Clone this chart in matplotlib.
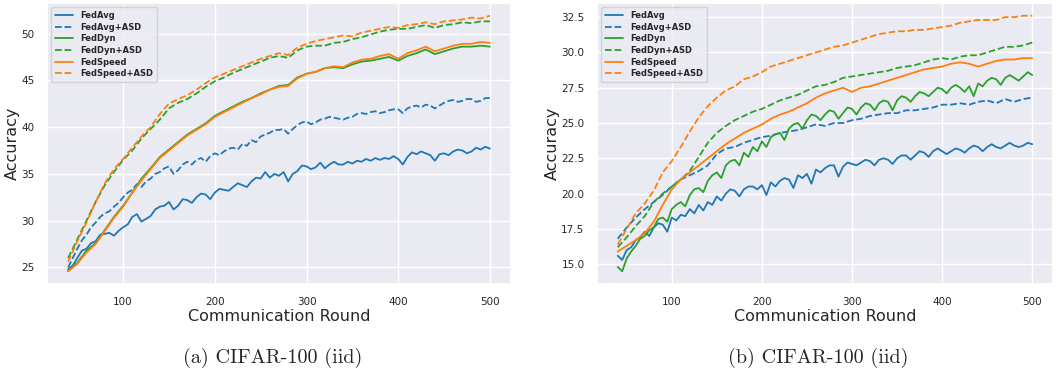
import matplotlib
matplotlib.use("Agg")
import matplotlib.pyplot as plt
import seaborn as sns

sns.set_theme(style="darkgrid")
plt.rcParams["font.family"] = ["DejaVu Sans"]

rounds10 = list(range(40, 501, 10))
rounds5 = list(range(40, 501, 5))

labels = ["FedAvg", "FedAvg+ASD", "FedDyn", "FedDyn+ASD", "FedSpeed", "FedSpeed+ASD"]
colors = ["#1f77b4", "#1f77b4", "#2ca02c", "#2ca02c", "#ff7f0e", "#ff7f0e"]
styles = ["-", "--", "-", "--", "-", "--"]

# (a) CIFAR-100 (iid) -- every 5 rounds
a_fedavg = [24.8, 25.2, 26.0, 26.8, 27.0, 27.6, 27.8, 28.5, 28.6, 28.7,
            28.4, 28.9, 29.3, 29.6, 30.4, 30.7, 29.9, 30.2, 30.5, 31.2,
            31.5, 31.6, 32.0, 31.2, 31.6, 32.3, 32.2, 31.9, 32.5, 32.9,
            32.8, 32.3, 33.0, 33.4, 33.3, 33.2, 33.6, 34.0, 33.8, 33.6,
            34.2, 34.6, 34.5, 35.2, 34.6, 35.0, 34.8, 35.2, 34.2, 35.0,
            35.3, 35.9, 35.8, 35.5, 35.7, 36.2, 35.6, 36.0, 36.3, 36.0,
            36.0, 36.3, 36.1, 36.4, 36.3, 36.6, 36.4, 36.7, 36.5, 36.7,
            36.6, 36.9, 36.6, 36.0, 36.8, 37.3, 37.1, 37.4, 37.2, 37.0,
            36.4, 37.1, 37.2, 37.0, 37.4, 37.6, 37.5, 37.2, 37.4, 37.8,
            37.6, 37.9, 37.7]
a_fedavg_asd = [25.0, 26.0, 27.0, 27.9, 28.5, 29.3, 29.8, 30.4, 30.8, 31.0,
                31.5, 31.9, 32.5, 33.0, 33.3, 33.9, 33.6, 34.2, 34.5, 35.0,
                35.2, 35.6, 35.8, 35.0, 35.4, 36.0, 36.3, 36.0, 36.5, 36.7,
                36.3, 36.9, 37.2, 37.0, 37.4, 37.7, 37.8, 37.6, 38.2, 38.0,
                38.6, 38.4, 39.0, 39.2, 39.4, 39.7, 39.7, 39.8, 39.3, 39.8,
                40.2, 40.5, 40.6, 40.3, 40.5, 40.8, 40.9, 41.1, 41.0, 40.9,
                40.8, 41.0, 41.1, 41.4, 41.5, 41.4, 41.6, 41.7, 41.5, 41.6,
                41.8, 41.9, 41.9, 41.5, 42.0, 42.2, 42.3, 42.1, 42.4, 42.3,
                42.0, 42.3, 42.6, 42.8, 42.9, 42.7, 42.8, 43.0, 43.0, 42.7,
                42.8, 43.1, 43.1]

# (a) CIFAR-100 (iid) -- every 10 rounds
a_feddyn = [24.6, 25.5, 26.8, 27.6, 29.0, 30.4, 31.6, 33.0, 34.5, 35.6, 36.8, 37.6, 38.4,
            39.2, 39.8, 40.4, 41.2, 41.7, 42.2, 42.7, 43.1, 43.6, 44.0, 44.4, 44.5, 45.3,
            45.7, 45.9, 46.3, 46.4, 46.3, 46.7, 47.0, 47.1, 47.3, 47.5, 47.1, 47.6, 47.9,
            48.3, 47.8, 48.1, 48.4, 48.6, 48.6, 48.7, 48.6]
a_feddyn_asd = [26.0, 28.0, 30.0, 32.0, 33.8, 35.2, 36.5, 37.5, 38.8, 39.8, 40.8, 42.0, 42.6,
                43.0, 43.6, 44.3, 44.9, 45.3, 45.8, 46.2, 46.6, 47.0, 47.4, 47.6, 47.4, 48.2,
                48.6, 48.7, 48.7, 49.0, 49.1, 49.4, 49.6, 49.9, 50.2, 50.4, 50.5, 50.5, 50.7,
                50.9, 50.6, 50.9, 51.0, 51.2, 51.1, 51.3, 51.3]
a_fedspeed = [24.6, 25.4, 26.6, 27.5, 28.9, 30.3, 31.5, 33.0, 34.3, 35.5, 36.7, 37.5, 38.3,
              39.1, 39.7, 40.3, 41.1, 41.6, 42.1, 42.6, 43.1, 43.5, 44.0, 44.3, 44.4, 45.2,
              45.7, 45.9, 46.3, 46.5, 46.4, 46.9, 47.2, 47.3, 47.6, 47.8, 47.3, 47.9, 48.2,
              48.6, 48.1, 48.4, 48.7, 48.9, 48.9, 49.1, 49.0]
a_fedspeed_asd = [25.6, 27.8, 29.8, 32.0, 34.0, 35.5, 36.6, 37.8, 39.0, 40.0, 41.4, 42.5, 43.0,
                  43.4, 44.0, 44.7, 45.3, 45.7, 46.1, 46.5, 46.9, 47.3, 47.6, 47.9, 47.7, 48.5,
                  48.9, 49.2, 49.4, 49.6, 49.8, 49.7, 50.1, 50.3, 50.5, 50.7, 50.6, 50.9, 51.0,
                  51.2, 51.0, 51.3, 51.4, 51.5, 51.7, 51.6, 51.9]

# (b) CIFAR-100 (iid) -- every 5 rounds
b_fedavg = [15.6, 15.3, 16.0, 16.2, 16.7, 16.9, 17.3, 17.0, 17.6, 17.9,
            17.8, 17.3, 18.3, 18.1, 18.5, 18.4, 18.9, 18.6, 19.2, 18.8,
            19.4, 19.2, 19.8, 19.5, 20.0, 20.3, 20.2, 19.8, 20.3, 20.5,
            20.5, 20.3, 20.6, 19.9, 20.8, 20.5, 20.9, 21.1, 21.0, 20.4,
            21.3, 21.1, 21.4, 20.7, 21.7, 21.5, 21.8, 22.0, 22.0, 21.2,
            21.9, 22.2, 22.1, 22.0, 22.2, 22.4, 22.3, 22.0, 22.4, 22.5,
            22.4, 22.1, 22.5, 22.7, 22.7, 22.4, 22.7, 23.0, 22.9, 22.6,
            23.0, 23.2, 23.0, 22.8, 23.0, 23.2, 23.1, 22.9, 23.2, 23.4,
            23.3, 23.0, 23.3, 23.5, 23.3, 23.2, 23.4, 23.6, 23.4, 23.3,
            23.4, 23.6, 23.5]
b_feddyn = [14.8, 14.5, 15.4, 15.9, 16.3, 16.8, 17.0, 17.4, 17.6, 18.2,
            18.3, 18.0, 18.9, 19.2, 19.4, 19.1, 19.9, 20.3, 20.4, 20.1,
            20.9, 21.3, 21.5, 21.1, 22.0, 22.3, 22.4, 22.0, 22.9, 22.6,
            23.3, 23.0, 23.7, 23.3, 24.0, 24.2, 24.3, 23.8, 24.6, 24.9,
            25.0, 24.6, 25.2, 25.6, 25.5, 25.2, 25.6, 25.9, 25.8, 25.3,
            25.7, 26.1, 26.0, 25.6, 26.1, 26.4, 26.3, 25.9, 26.4, 26.6,
            26.5, 25.9, 26.6, 26.9, 26.8, 26.5, 26.9, 27.2, 27.1, 26.9,
            27.2, 27.5, 27.4, 27.1, 27.5, 27.7, 27.5, 27.2, 27.6, 26.9,
            27.8, 27.6, 28.0, 28.2, 28.1, 27.7, 28.2, 28.4, 28.2, 28.0,
            28.3, 28.6, 28.4]

# (b) CIFAR-100 (iid) -- every 10 rounds
b_fedavg_asd = [16.8, 17.6, 18.3, 18.9, 19.4, 19.9, 20.5, 21.0, 21.3, 21.6, 22.0, 22.8, 23.2,
                23.3, 23.6, 23.8, 24.0, 24.1, 24.3, 24.4, 24.5, 24.7, 24.9, 24.8, 25.0, 25.0,
                25.2, 25.3, 25.5, 25.6, 25.7, 25.7, 25.9, 25.9, 26.0, 26.1, 26.3, 26.3, 26.4,
                26.3, 26.5, 26.6, 26.4, 26.7, 26.5, 26.7, 26.8]
b_feddyn_asd = [16.2, 16.9, 17.7, 18.4, 19.4, 20.0, 20.5, 21.0, 21.6, 22.6, 23.6, 24.3, 24.8,
                25.2, 25.5, 25.8, 26.0, 26.3, 26.6, 26.8, 27.0, 27.3, 27.6, 27.7, 27.9, 28.2,
                28.3, 28.4, 28.5, 28.6, 28.7, 28.9, 29.0, 29.1, 29.3, 29.5, 29.6, 29.5, 29.7,
                29.8, 29.8, 30.0, 30.2, 30.4, 30.4, 30.5, 30.7]
b_fedspeed = [15.9, 16.3, 16.7, 17.2, 18.0, 19.2, 20.3, 21.0, 21.5, 22.0, 22.5, 23.0, 23.5,
              23.9, 24.3, 24.6, 24.9, 25.3, 25.6, 25.8, 26.1, 26.4, 26.8, 27.1, 27.3, 27.5,
              27.2, 27.5, 27.6, 27.8, 28.0, 28.2, 28.4, 28.6, 28.8, 28.9, 29.0, 29.2, 29.3,
              29.2, 29.0, 29.2, 29.4, 29.5, 29.5, 29.6, 29.6]
b_fedspeed_asd = [16.4, 17.5, 18.6, 19.3, 20.2, 21.5, 22.3, 23.3, 24.4, 25.4, 26.2, 26.8, 27.3,
                  27.6, 28.1, 28.3, 28.6, 29.0, 29.2, 29.4, 29.6, 29.8, 30.0, 30.2, 30.4, 30.5,
                  30.7, 30.9, 31.1, 31.3, 31.4, 31.5, 31.5, 31.6, 31.6, 31.7, 31.8, 31.9, 32.1,
                  32.2, 32.3, 32.3, 32.3, 32.5, 32.5, 32.6, 32.6]

panel_a = [a_fedavg, a_fedavg_asd, a_feddyn, a_feddyn_asd, a_fedspeed, a_fedspeed_asd]
panel_b = [b_fedavg, b_fedavg_asd, b_feddyn, b_feddyn_asd, b_fedspeed, b_fedspeed_asd]
captions = ["(a) CIFAR-100 (iid)", "(b) CIFAR-100 (iid)"]


def x_for(ys):
    return rounds5 if len(ys) == len(rounds5) else rounds10


fig = plt.figure(figsize=(10.59, 3.70), dpi=100)
ax_a = fig.add_axes([0.0444, 0.2324, 0.4381, 0.7596])
ax_b = fig.add_axes([0.5637, 0.2324, 0.4306, 0.7596])

for ax, series, cap in [(ax_a, panel_a, captions[0]), (ax_b, panel_b, captions[1])]:
    for ys, lab, c, ls in zip(series, labels, colors, styles):
        ax.plot(x_for(ys), ys, color=c, linestyle=ls, linewidth=1.3, label=lab)
    ax.set_xlabel("Communication Round", fontsize=11.5, labelpad=2)
    ax.set_ylabel("Accuracy", fontsize=11.5, labelpad=1)
    ax.set_xticks([100, 200, 300, 400, 500])
    ax.tick_params(axis="both", labelsize=7.5, pad=3)
    leg = ax.legend(loc="upper left", prop={"weight": "bold", "size": 6},
                    handlelength=2.2, labelspacing=0.32, borderpad=0.45,
                    frameon=True, fancybox=True)
    leg.get_frame().set_facecolor("#EAEAF2")
    leg.get_frame().set_edgecolor("#CCCCCC")
    for t in leg.get_texts():
        t.set_color("#262626")
    pos = ax.get_position()
    fig.text((pos.x0 + pos.x1) / 2 - 0.006, 0.02, cap, family="cmr10",
             fontsize=14.5, ha="center", va="baseline")

ax_b.set_yticks([15.0, 17.5, 20.0, 22.5, 25.0, 27.5, 30.0, 32.5])
ax_b.set_yticklabels(["15.0", "17.5", "20.0", "22.5", "25.0", "27.5", "30.0", "32.5"])

fig.savefig("out.png", dpi=100)
